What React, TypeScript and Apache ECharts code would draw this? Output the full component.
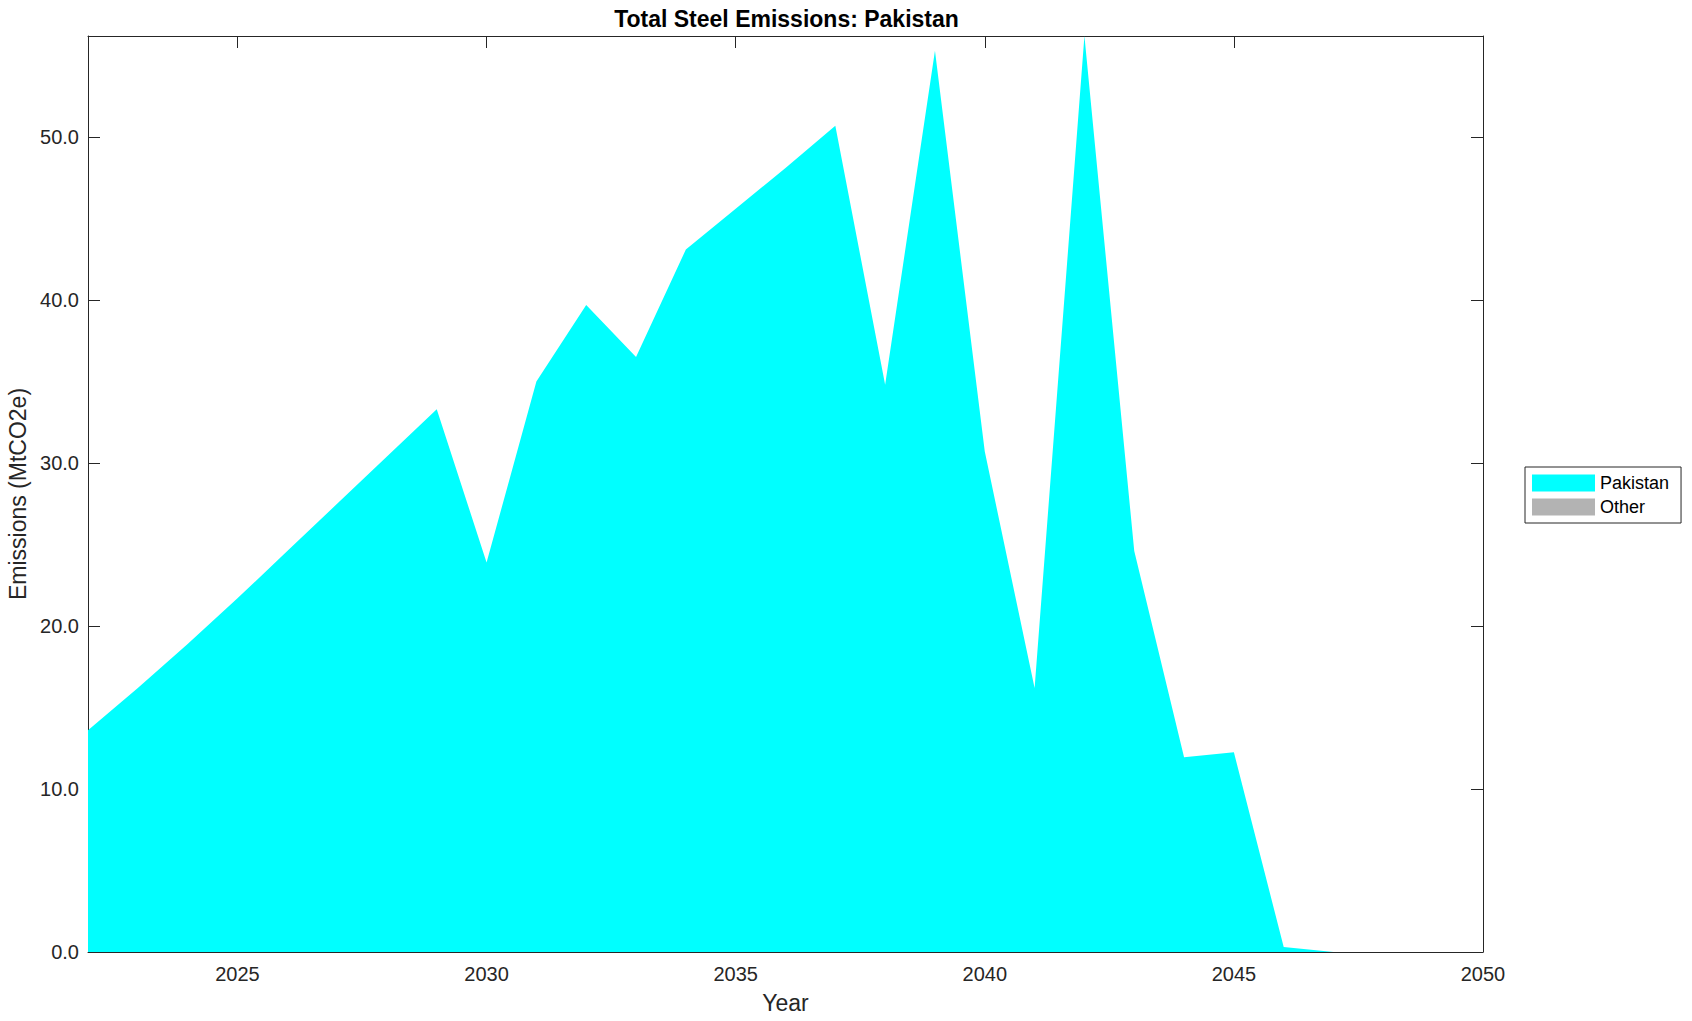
import React, { useEffect, useRef } from "react";
import * as echarts from "echarts";

const years = [2022, 2023, 2024, 2025, 2026, 2027, 2028, 2029, 2030, 2031, 2032, 2033, 2034, 2035, 2036, 2037, 2038, 2039, 2040, 2041, 2042, 2043, 2044, 2045, 2046, 2047, 2048, 2049, 2050];
const pakistan = [13.6, 16.2, 18.9, 21.7, 24.6, 27.5, 30.4, 33.3, 23.9, 35.0, 39.7, 36.5, 43.1, 45.6, 48.1, 50.7, 34.8, 55.3, 30.7, 16.2, 56.2, 24.6, 11.95, 12.25, 0.3, 0, 0, 0, 0];
const other = [0, 0, 0, 0, 0, 0, 0, 0, 0, 0, 0, 0, 0, 0, 0, 0, 0, 0, 0, 0, 0, 0, 0, 0, 0, 0, 0, 0, 0];
const xTicks = [2025, 2030, 2035, 2040, 2045, 2050];
const yTicks = [0, 10, 20, 30, 40, 50];
const seriesNames = ["Pakistan", "Other"];
const seriesColors = ["#00ffff", "#b3b3b3"];

const FONT = "'Liberation Sans', Arial, Helvetica, sans-serif";
const INK = "#262626";

export default function App() {
  const ref = useRef<HTMLDivElement>(null);
  useEffect(() => {
    if (!ref.current) return;
    const chart = echarts.init(ref.current, null, { renderer: "svg" });
    const yMax = Math.max(...pakistan.map((v, i) => v + other[i]));
    const gridLeft = 88;
    const gridTop = 36;
    const gridW = 1395;
    const gridH = 916;
    const option: any = {
      animation: false,
      backgroundColor: "#ffffff",
      textStyle: { fontFamily: FONT },
      grid: { left: gridLeft, top: gridTop, width: gridW, height: gridH, containLabel: false, outerBoundsMode: "none" },
      graphic: [
        {
          type: "text",
          x: gridLeft + gridW / 2 + 1,
          y: 19,
          style: {
            text: "Total Steel Emissions: Pakistan",
            fontFamily: FONT,
            fontWeight: "bold",
            fontSize: 23,
            fill: "#000",
            textAlign: "center",
            textVerticalAlign: "middle",
          },
        },
      ],
      legend: {
        orient: "vertical",
        left: 1525,
        top: 467,
        padding: [7, 12, 7, 7],
        borderColor: INK,
        borderWidth: 1,
        backgroundColor: "#fff",
        itemWidth: 63,
        itemHeight: 17,
        itemGap: 6,
        icon: "rect",
        textStyle: { fontFamily: FONT, fontSize: 18, color: "#000", lineHeight: 17 },
        data: seriesNames.map((n, i) => ({ name: n, icon: "rect", itemStyle: { color: seriesColors[i] } })),
      },
      xAxis: [
        {
          type: "value",
          min: years[0],
          max: years[years.length - 1],
          position: "bottom",
          name: "Year",
          nameLocation: "middle",
          nameGap: 39,
          nameTextStyle: { fontFamily: FONT, fontSize: 23, color: INK },
          axisLine: { show: true, lineStyle: { color: INK, width: 1 } },
          axisTick: { show: true, inside: true, length: 12, customValues: xTicks, lineStyle: { color: INK } },
          axisLabel: { show: true, customValues: xTicks, margin: 12, fontFamily: FONT, fontSize: 20, color: INK, formatter: (v: number) => String(v) },
          splitLine: { show: false },
        },
        {
          type: "value",
          min: years[0],
          max: years[years.length - 1],
          position: "top",
          axisLine: { show: true, onZero: false, lineStyle: { color: INK, width: 1 } },
          axisTick: { show: true, inside: true, length: 12, customValues: xTicks, lineStyle: { color: INK } },
          axisLabel: { show: false },
          splitLine: { show: false },
        },
      ],
      yAxis: [
        {
          type: "value",
          min: 0,
          max: yMax,
          position: "left",
          name: "Emissions (MtCO2e)",
          nameLocation: "middle",
          nameGap: 58,
          nameTextStyle: { fontFamily: FONT, fontSize: 23, color: INK },
          axisLine: { show: true, onZero: false, lineStyle: { color: INK, width: 1 } },
          axisTick: { show: true, inside: true, length: 12, customValues: yTicks, lineStyle: { color: INK } },
          axisLabel: { show: true, customValues: yTicks, margin: 9, fontFamily: FONT, fontSize: 20, color: INK, formatter: (v: number) => v.toFixed(1) },
          splitLine: { show: false },
        },
        {
          type: "value",
          min: 0,
          max: yMax,
          position: "right",
          axisLine: { show: true, onZero: false, lineStyle: { color: INK, width: 1 } },
          axisTick: { show: true, inside: true, length: 12, customValues: yTicks, lineStyle: { color: INK } },
          axisLabel: { show: false },
          splitLine: { show: false },
        },
      ],
      series: seriesNames.map((n, si) => ({
        name: n,
        type: "line",
        stack: "total",
        xAxisIndex: 0,
        yAxisIndex: 0,
        symbol: "none",
        showSymbol: false,
        lineStyle: { width: 0, color: seriesColors[si] },
        itemStyle: { color: seriesColors[si] },
        areaStyle: { color: seriesColors[si], opacity: 1 },
        data: years.map((y, i) => [y, si === 0 ? pakistan[i] : other[i]]),
        z: 1,
      })),
    };
    chart.setOption(option);
    return () => chart.dispose();
  }, []);
  return (
    <div
      ref={ref}
      style={{ position: "fixed", left: 0, top: 0, width: 1692, height: 1021, background: "#fff" }}
    />
  );
}
